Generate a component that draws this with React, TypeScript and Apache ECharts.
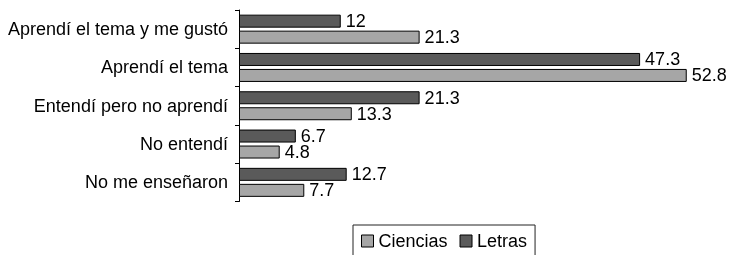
import React, { useEffect, useRef } from "react";
import * as echarts from "echarts";

const categories = [
  "Aprendí el tema y me gustó",
  "Aprendí el tema",
  "Entendí pero no aprendí",
  "No entendí",
  "No me enseñaron",
];
const ciencias = [21.3, 52.8, 13.3, 4.8, 7.7];
const letras = [12, 47.3, 21.3, 6.7, 12.7];

const FONT = 'Arial, "Liberation Sans", sans-serif';

export default function App() {
  const ref = useRef<HTMLDivElement>(null);
  useEffect(() => {
    if (!ref.current) return;
    const chart = echarts.init(ref.current, undefined, { renderer: "svg" });
    const label = {
      show: true,
      position: "right" as const,
      distance: 5,
      color: "#000",
      fontSize: 18,
      fontFamily: FONT,
    };
    chart.setOption({
      animation: false,
      textStyle: { fontFamily: FONT },
      grid: { left: 239, top: 10, right: 25.6, height: 191.5 },
      xAxis: {
        type: "value",
        min: 0,
        max: 55,
        show: false,
      },
      yAxis: {
        type: "category",
        data: categories,
        inverse: true,
        axisLine: { show: true, lineStyle: { color: "#000", width: 1 } },
        axisTick: { show: true, length: 4, lineStyle: { color: "#000" } },
        axisLabel: { color: "#000", fontSize: 18, fontFamily: FONT, margin: 11 },
        splitLine: { show: false },
      },
      legend: {
        data: ["Ciencias", "Letras"],
        left: 353,
        top: 225,
        padding: [7, 8, 10, 8],
        itemWidth: 12,
        itemHeight: 12,
        itemGap: 12,
        borderColor: "#222",
        borderWidth: 1,
        icon: "rect",
        itemStyle: { borderColor: "#000", borderWidth: 1 },
        textStyle: { color: "#000", fontSize: 18, fontFamily: FONT },
      },
      series: [
        {
          name: "Letras",
          type: "bar",
          data: letras,
          barWidth: 13,
          barGap: "23%",
          itemStyle: { color: "#5a5a5a", borderColor: "#000", borderWidth: 1 },
          label,
        },
        {
          name: "Ciencias",
          type: "bar",
          data: ciencias,
          barWidth: 13,
          barGap: "23%",
          itemStyle: { color: "#a6a6a6", borderColor: "#000", borderWidth: 1 },
          label,
        },
      ],
    });
    return () => chart.dispose();
  }, []);
  return (
    <div
      ref={ref}
      style={{ position: "fixed", left: 0, top: 0, width: 731, height: 255 }}
    />
  );
}
